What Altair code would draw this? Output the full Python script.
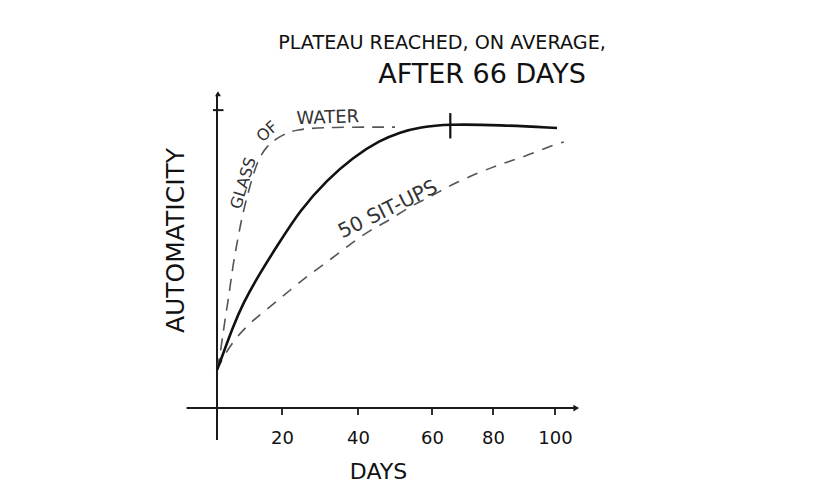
import altair as alt
import pandas as pd

# ---- data ----
SOLID_DAYS = [0, 1.5, 4.9, 8, 13.2, 18.5, 24.7, 31.8, 38.7, 46, 51.4, 56.8, 65, 82.3, 100.6]
SOLID_AUTO = [12.8, 17.1, 27.2, 35.2, 45.3, 54.4, 66.4, 76.5, 84.2, 89.9, 92.6, 94.3, 95.3, 95, 94]

GLASS_DAYS = [0, 1.2, 2.2, 3.7, 4.9, 6.5, 8, 10.2, 12.3, 15.1, 19.4, 23.4, 32.6, 50]
GLASS_AUTO = [12.8, 19.5, 27.9, 37.9, 48, 57.4, 65.8, 74.8, 82.6, 87.9, 91.3, 93.6, 94.3, 94.3]

SIT_DAYS = [0, 3.7, 9.8, 16.3, 22.1, 27.4, 32.6, 37.9, 43.2, 48.6, 54.1, 59.5, 65.9, 75.7, 83.2, 89.7, 99.4, 102.6]
SIT_AUTO = [12.8, 20.8, 28.5, 33.9, 39.6, 45, 49.7, 55, 59.7, 63.1, 67.8, 70.8, 74.8, 79.2, 82.2, 84.2, 88.3, 89.3]

X_TICKS = [20, 40, 60, 80, 100]
PLATEAU_DAY = 66

TITLE_1 = "PLATEAU REACHED, ON AVERAGE,"
TITLE_2 = "AFTER  66 DAYS"
X_TITLE = "DAYS"
Y_TITLE = "AUTOMATICITY"

CURVE_LABELS = ["GLASS", "OF", "WATER", "50 SIT-UPS"]

# ---- scales (hand-drawn axis: tick spacing is uneven) ----
xscale = alt.Scale(domain=[-8, 0, 20, 40, 60, 80, 100, 108],
                   range=[0, 27, 92, 168, 242, 303, 365, 392],
                   nice=False, zero=False)
yscale = alt.Scale(domain=[-5, 108.1], nice=False, zero=False)

SANS = "DejaVu Sans"

xaxis = alt.Axis(values=X_TICKS, domain=False, ticks=False, grid=False,
                 labelFont=SANS, labelFontSize=18, labelColor="#111",
                 labelPadding=6, labelOverlap=False, labelFlush=False,
                 title=X_TITLE, titleFont=SANS, titleFontSize=22,
                 titleFontWeight="normal", titleColor="#111",
                 titleX=188, titleY=48, titleBaseline="middle", titleAlign="center")
yaxis = alt.Axis(labels=False, ticks=False, domain=False, grid=False,
                 title=Y_TITLE, titleFont=SANS, titleFontSize=25,
                 titleFontWeight="normal", titleColor="#111", titleAngle=270,
                 titleX=-15, titleY=154, titleBaseline="middle", titleAlign="center")


def X(v, **kw):
    return alt.X(v, type="quantitative", scale=xscale, axis=xaxis, **kw)


def Y(v, **kw):
    return alt.Y(v, type="quantitative", scale=yscale, axis=yaxis, **kw)


def DX(v):
    return alt.XDatum(v, type="quantitative", scale=xscale, axis=xaxis)


def DY(v):
    return alt.YDatum(v, type="quantitative", scale=yscale, axis=yaxis)


one = pd.DataFrame({"k": [0]})

solid_df = pd.DataFrame({"day": SOLID_DAYS, "auto": SOLID_AUTO})
glass_df = pd.DataFrame({"day": GLASS_DAYS, "auto": GLASS_AUTO})
sit_df = pd.DataFrame({"day": SIT_DAYS, "auto": SIT_AUTO})
tick_df = pd.DataFrame({"day": X_TICKS})

# axis lines drawn as in the sketch (crossing at the origin)
x_line = alt.Chart(one).mark_rule(color="#1a1a1a", strokeWidth=2).encode(
    x=DX(-9), x2=alt.datum(106), y=DY(0))
y_line = alt.Chart(one).mark_rule(color="#1a1a1a", strokeWidth=2).encode(
    x=DX(0), y=DY(-10.7), y2=alt.datum(105.5))
x_arrow = alt.Chart(one).mark_point(shape="triangle-right", filled=True, size=45,
                                    color="#1a1a1a", opacity=1).encode(x=DX(106.3), y=DY(0))
y_arrow = alt.Chart(one).mark_point(shape="triangle-up", filled=True, size=35,
                                    color="#1a1a1a", opacity=1).encode(x=DX(0.3), y=DY(105.5))
y_tick = alt.Chart(one).mark_rule(color="#1a1a1a", strokeWidth=2).encode(
    x=DX(-1.2), x2=alt.datum(2), y=DY(100))
x_ticks = alt.Chart(tick_df).mark_rule(color="#1a1a1a", strokeWidth=1.8).encode(
    x=X("day"), y=DY(0), y2=alt.datum(-2.3))

solid = alt.Chart(solid_df).mark_line(color="#111", strokeWidth=2.6,
                                      interpolate="basis").encode(x=X("day"), y=Y("auto"))
glass = alt.Chart(glass_df).mark_line(color="#555", strokeWidth=1.6, strokeDash=[12, 8],
                                      interpolate="basis").encode(x=X("day"), y=Y("auto"))
sit = alt.Chart(sit_df).mark_line(color="#555", strokeWidth=1.6, strokeDash=[11, 9],
                                  interpolate="basis").encode(x=X("day"), y=Y("auto"))

plateau_tick = alt.Chart(one).mark_rule(color="#111", strokeWidth=2.2).encode(
    x=DX(PLATEAU_DAY), y=DY(90.5), y2=alt.datum(99))


def curve_label(text, day, auto, angle, size):
    return alt.Chart(pd.DataFrame({"label": [text]})).mark_text(
        font=SANS, fontSize=size, color="#333", angle=angle,
        align="center", baseline="alphabetic").encode(
        x=DX(day), y=DY(auto), text="label:N")


lab_glass = curve_label(CURVE_LABELS[0], 9.6, 75, 287, 16)
lab_of = curve_label(CURVE_LABELS[1], 16.5, 91.5, 318, 16)
lab_water = curve_label(CURVE_LABELS[2], 32.1, 95.6, 358, 18)
lab_sit = curve_label(CURVE_LABELS[3], 48.8, 64.8, 334, 20)

title1 = alt.Chart(pd.DataFrame({"label": [TITLE_1]})).mark_text(
    font=SANS, fontSize=19.2, color="#111", align="center", baseline="middle").encode(
    x=alt.value(252), y=alt.value(-43), text="label:N")
title2 = alt.Chart(pd.DataFrame({"label": [TITLE_2]})).mark_text(
    font=SANS, fontSize=27, color="#111", align="center", baseline="middle").encode(
    x=alt.value(292), y=alt.value(-11), text="label:N")

chart = alt.layer(
    x_line, y_line, x_arrow, y_arrow, y_tick, x_ticks,
    glass, sit, solid, plateau_tick,
    lab_glass, lab_of, lab_water, lab_sit,
    title1, title2,
).properties(
    width=392, height=337,
    autosize=alt.AutoSizeParams(type="none"),
    padding={"left": 182, "top": 78, "right": 240, "bottom": 66},
    background="white",
).configure_view(stroke=None)

chart.save("out.html", embed_options={"renderer": "svg", "actions": False})
